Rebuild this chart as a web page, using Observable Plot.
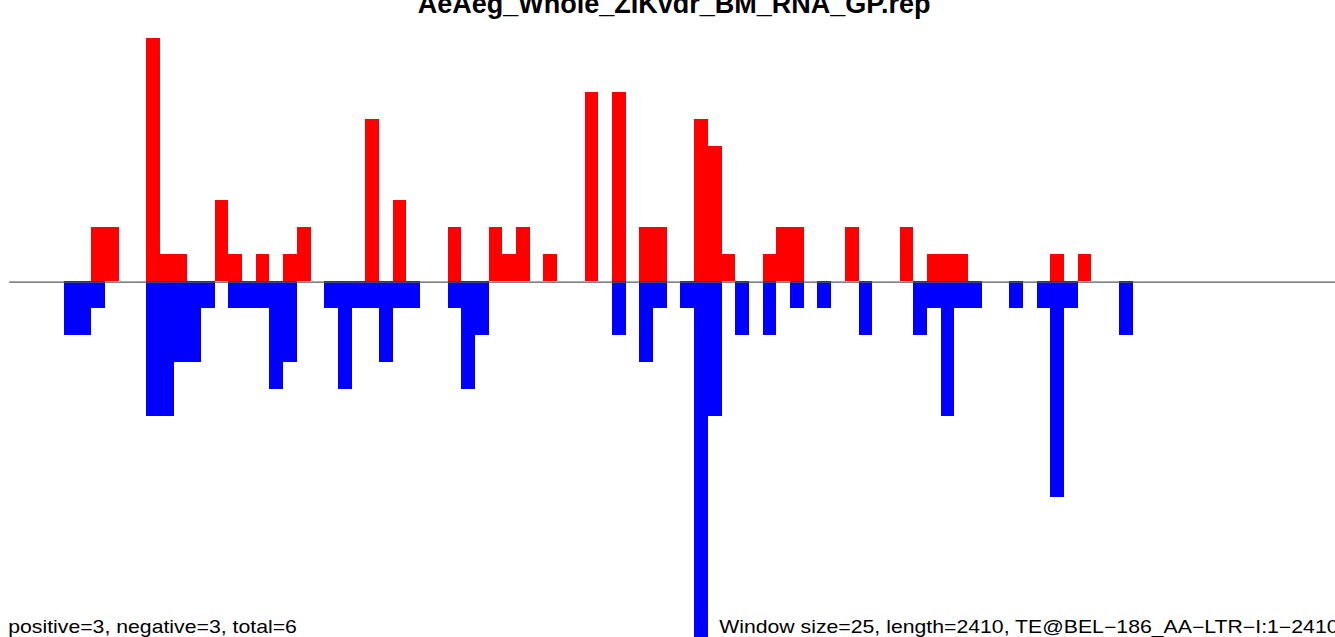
<!DOCTYPE html>
<html>
<head>
<meta charset="utf-8">
<script src="https://cdn.jsdelivr.net/npm/d3@7"></script>
<script src="https://cdn.jsdelivr.net/npm/@observablehq/plot@0.6"></script>
<style>
  html, body { margin: 0; padding: 0; background: white; overflow: hidden; }
  #chart { width: 1335px; height: 637px; overflow: hidden; position: relative; }
  #chart svg { max-width: none !important; display: block; }
</style>
</head>
<body>
<div id="chart"></div>
<script>
// Chart texts
const titleText = "AeAeg_Whole_ZIKvdr_BM_RNA_GP.rep";
const captionLeft = "positive=3, negative=3, total=6";
const captionRight = "Window size=25, length=2410, TE@BEL\u2212186_AA\u2212LTR\u2212I:1\u22122410";

const windowSize = 25;
const seqLength = 2410;

// Per-window counts (windows 0..96), positive strand (red, up)
const positiveCounts = [
  0,0,0,0,0,0,2,2,0,0,
  9,1,1,0,0,3,1,0,1,0,
  1,2,0,0,0,0,6,0,3,0,
  0,0,2,0,0,2,1,2,0,1,
  0,0,7,0,7,0,2,2,0,0,
  6,5,1,0,0,1,2,2,0,0,
  0,2,0,0,0,2,0,1,1,1,
  0,0,0,0,0,0,1,0,1,0,
  0,0,0,0,0,0,0,0,0,0,
  0,0,0,0,0,0,0
];
// Per-window counts, negative strand (blue, down)
const negativeCounts = [
  0,0,0,0,2,2,1,0,0,0,
  5,5,3,3,1,0,1,1,1,4,
  3,0,0,1,4,1,1,3,1,1,
  0,0,1,4,2,0,0,0,0,0,
  0,0,0,0,2,0,3,1,0,1,
  14,5,0,2,0,2,0,1,0,1,
  0,0,2,0,0,0,2,1,5,1,
  1,0,0,1,0,1,8,1,0,0,
  0,2,0,0,0,0,0,0,0,0,
  0,0,0,0,0,0,0
];

const nWindows = positiveCounts.length;
const rows = [];
positiveCounts.forEach((v, i) => {
  if (v > 0) rows.push({start: i * windowSize, end: (i + 1) * windowSize, value: v, strand: "pos"});
});
negativeCounts.forEach((v, i) => {
  if (v > 0) rows.push({start: i * windowSize, end: (i + 1) * windowSize, value: -v, strand: "neg"});
});

const W = 1338, H = 637;
const plot = Plot.plot({
  width: W,
  height: H,
  marginLeft: 9.2,
  marginRight: 0,
  marginTop: 0,
  marginBottom: 0,
  style: {fontFamily: "'Liberation Sans', Arial, Helvetica, sans-serif", background: "white"},
  x: {domain: [0, nWindows * windowSize], axis: null},
  y: {domain: [-13.17, 10.42], axis: null},
  marks: [
    Plot.rectY(rows, {
      x1: "start", x2: "end", y1: 0, y2: "value",
      fill: d => d.strand === "pos" ? "#ff0000" : "#0000ff",
      shapeRendering: "crispEdges"
    }),
    Plot.ruleY([0], {stroke: "#5a5a5a", strokeWidth: 1.2, dy: 0.3}),
    Plot.text([titleText], {
      text: d => d, frameAnchor: "top", lineAnchor: "bottom", dy: 12,
      fontSize: 27, fontWeight: "bold", fill: "black"
    }),
    Plot.text([captionLeft], {
      text: d => d, frameAnchor: "bottom-left", textAnchor: "start", lineAnchor: "bottom",
      dx: -1.5, dy: -4.5, fontSize: 17.7, fill: "black", className: "cap-stretch"
    }),
    Plot.text([captionRight], {
      text: d => d, frameAnchor: "bottom-right", textAnchor: "end", lineAnchor: "bottom",
      dx: 0, dy: -4.5, fontSize: 17.7, fill: "black", className: "cap-stretch"
    })
  ]
});
plot.style.maxWidth = "none";
plot.style.overflow = "hidden";

// The reference captions are horizontally stretched (~1.2x); mimic it.
const sx = 1.2;
plot.querySelectorAll(".cap-stretch text").forEach(t => {
  const tr = t.getAttribute("transform");
  if (tr && /translate/.test(tr)) {
    t.setAttribute("transform", tr + ` scale(${sx},1)`);
  } else {
    const x = +(t.getAttribute("x") || 0), y = +(t.getAttribute("y") || 0);
    t.setAttribute("x", 0); t.setAttribute("y", 0);
    t.setAttribute("transform", `${tr || ""} translate(${x},${y}) scale(${sx},1)`);
  }
});
document.getElementById("chart").appendChild(plot);
</script>
</body>
</html>
